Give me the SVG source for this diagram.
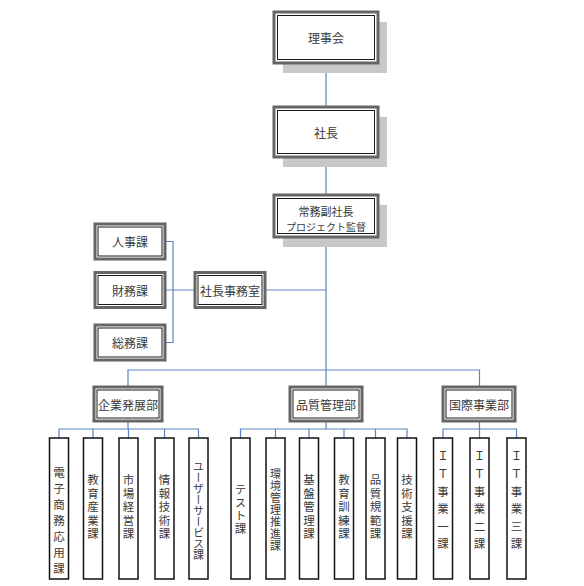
<svg xmlns="http://www.w3.org/2000/svg" width="584" height="586" viewBox="0 0 584 586">
<style>
.bg{fill:#ffffff}
.sh{fill:#c8c8c8}
.outer{fill:#ffffff;stroke:#666666;stroke-width:3}
.inner{fill:none;stroke:#1a1a1a;stroke-width:1}
.col{fill:#ffffff;stroke:#111111;stroke-width:1.5}
.t{font-family:"Noto Sans CJK JP","Noto Sans CJK SC",sans-serif;font-size:12px;fill:#3a3a3a;text-anchor:middle;dominant-baseline:central}
.s{font-size:10px}
.v{writing-mode:vertical-rl;font-size:11.5px}
.c{fill:none;stroke:#5b85c0;stroke-width:1.2}
</style>
<rect class="bg" x="0" y="0" width="584" height="586"/>

<g id="connectors">
<path class="c" d="M326,63 V107 M326,157 V195 M326,237 V387"/>
<path class="c" d="M265,290 H326"/>
<path class="c" d="M165,241.5 H173 V342.5 H165 M165,290 H195"/>
<path class="c" d="M128,387 V370 H479.5 V387"/>
<path class="c" d="M128,421 V429 M59,438 V429 H198.5 V438 M93,429 V438 M128.5,429 V438 M164.5,429 V438"/>
<path class="c" d="M326,421 V429 M240.5,438 V429 H407 V438 M275.5,429 V438 M309,429 V438 M344,429 V438 M375.5,429 V438"/>
<path class="c" d="M479.5,421 V429 M443,438 V429 H516.5 V438 M479.5,429 V438"/>
</g>

<g id="n-rijikai">
<rect class="sh" x="283" y="22" width="104" height="51"/>
<rect class="outer" x="274" y="12" width="104" height="51"/>
<rect class="inner" x="277.5" y="15.5" width="97" height="44"/>
<text class="t" x="326" y="37.5">理事会</text>
</g>
<g id="n-shacho">
<rect class="sh" x="283" y="117" width="104" height="50"/>
<rect class="outer" x="274" y="107" width="104" height="50"/>
<rect class="inner" x="277.5" y="110.5" width="97" height="43"/>
<text class="t" x="326" y="132">社長</text>
</g>
<g id="n-jomu">
<rect class="sh" x="283" y="205" width="104" height="42"/>
<rect class="outer" x="274" y="195" width="104" height="42"/>
<rect class="inner" x="277.5" y="198.5" width="97" height="35"/>
<text class="t" x="326" y="210.5" style="font-size:11px">常務副社長</text>
<text class="t s" x="326" y="226">プロジェクト監督</text>
</g>

<g id="n-jinji">
<rect class="outer" x="95" y="224" width="70" height="35"/>
<rect class="inner" x="98" y="227" width="64" height="29"/>
<text class="t" x="130" y="241.5">人事課</text>
</g>
<g id="n-zaimu">
<rect class="outer" x="95" y="272.5" width="70" height="35"/>
<rect class="inner" x="98" y="275.5" width="64" height="29"/>
<text class="t" x="130" y="290">財務課</text>
</g>
<g id="n-somu">
<rect class="outer" x="95" y="325" width="70" height="35"/>
<rect class="inner" x="98" y="328" width="64" height="29"/>
<text class="t" x="130" y="342.5">総務課</text>
</g>
<g id="n-jimushitsu">
<rect class="outer" x="195" y="272.5" width="70" height="35"/>
<rect class="inner" x="198" y="275.5" width="64" height="29"/>
<text class="t" x="230" y="290">社長事務室</text>
</g>

<g id="n-kigyo">
<rect class="outer" x="94" y="387" width="68" height="34"/>
<rect class="inner" x="97" y="390" width="62" height="28"/>
<text class="t" x="128" y="404">企業発展部</text>
</g>
<g id="n-hinshitsu">
<rect class="outer" x="290" y="387" width="72" height="34"/>
<rect class="inner" x="293" y="390" width="66" height="28"/>
<text class="t" x="326" y="404">品質管理部</text>
</g>
<g id="n-kokusai">
<rect class="outer" x="443" y="387" width="72" height="34"/>
<rect class="inner" x="446" y="390" width="66" height="28"/>
<text class="t" x="479" y="404">国際事業部</text>
</g>

<g id="n-a1"><rect class="col" x="49.5" y="438" width="19" height="141"/><text class="t v" x="59" y="523" letter-spacing="4.5">電子商務応用課</text></g>
<g id="n-a2"><rect class="col" x="83.5" y="438" width="19" height="141"/><text class="t v" x="93" y="508" letter-spacing="2">教育産業課</text></g>
<g id="n-a3"><rect class="col" x="119" y="438" width="19" height="141"/><text class="t v" x="128.5" y="508" letter-spacing="2">市場経営課</text></g>
<g id="n-a4"><rect class="col" x="155" y="438" width="19" height="141"/><text class="t v" x="164.5" y="508" letter-spacing="2">情報技術課</text></g>
<g id="n-a5"><rect class="col" x="189" y="438" width="19" height="141"/><text class="t v" x="198.5" y="510.5" style="font-size:11px">ユーザーサービス課</text></g>

<g id="n-q1"><rect class="col" x="231" y="438" width="19" height="141"/><text class="t v" x="240.5" y="510" letter-spacing="1.8">テスト課</text></g>
<g id="n-q2"><rect class="col" x="266" y="438" width="19" height="141"/><text class="t v" x="275.5" y="510.5" letter-spacing="1" style="font-size:11px">環境管理推進課</text></g>
<g id="n-q3"><rect class="col" x="299.5" y="438" width="19" height="141"/><text class="t v" x="309" y="508" letter-spacing="2">基盤管理課</text></g>
<g id="n-q4"><rect class="col" x="334.5" y="438" width="19" height="141"/><text class="t v" x="344" y="508" letter-spacing="2">教育訓練課</text></g>
<g id="n-q5"><rect class="col" x="366" y="438" width="19" height="141"/><text class="t v" x="375.5" y="508" letter-spacing="2">品質規範課</text></g>
<g id="n-q6"><rect class="col" x="397.5" y="438" width="19" height="141"/><text class="t v" x="407" y="508" letter-spacing="2">技術支援課</text></g>

<g id="n-i1"><rect class="col" x="433.5" y="438" width="19" height="141"/><text class="t v" x="443" y="503" letter-spacing="6">ＩＴ事業一課</text></g>
<g id="n-i2"><rect class="col" x="470" y="438" width="19" height="141"/><text class="t v" x="479.5" y="503" letter-spacing="6">ＩＴ事業二課</text></g>
<g id="n-i3"><rect class="col" x="507" y="438" width="19" height="141"/><text class="t v" x="516.5" y="503" letter-spacing="6">ＩＴ事業三課</text></g>
</svg>
